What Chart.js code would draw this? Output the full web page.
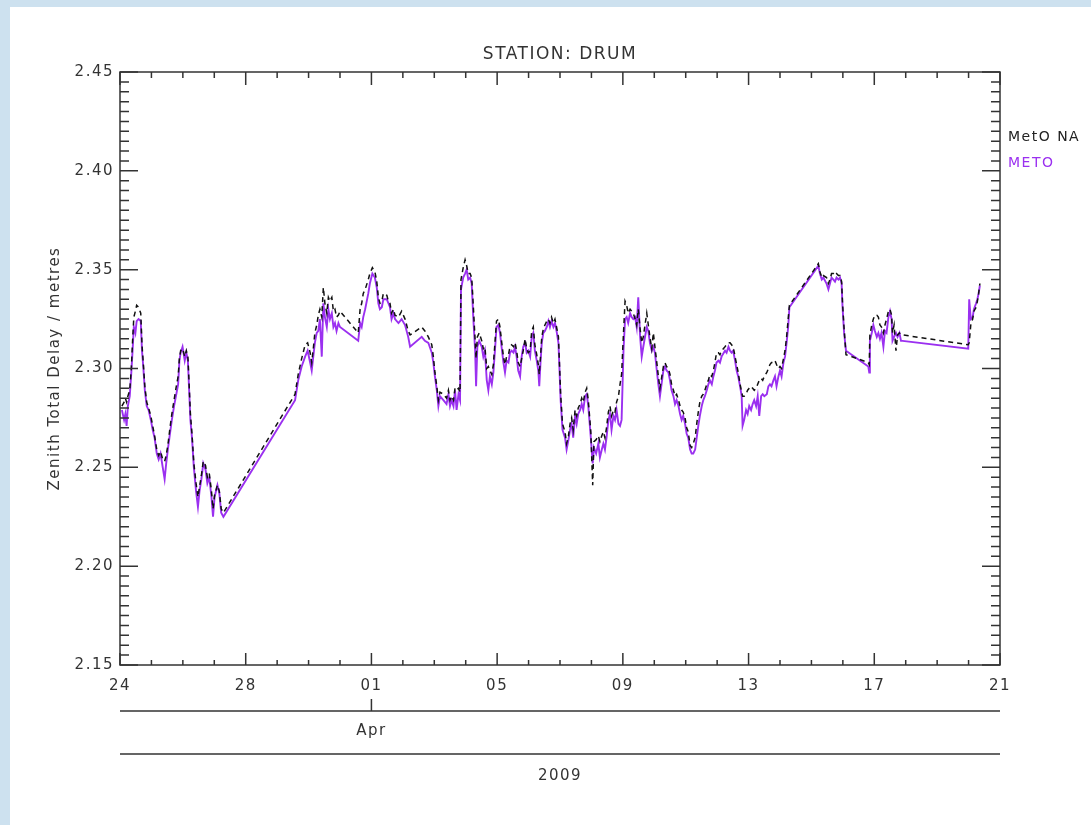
<!DOCTYPE html>
<html>
<head>
<meta charset="utf-8">
<script src="https://cdn.jsdelivr.net/npm/chart.js@4.4.0/dist/chart.umd.min.js"></script>
<style>
  html, body { margin: 0; padding: 0; background: #fff; }
  #wrap { width: 1091px; height: 825px; }
</style>
</head>
<body>
<div id="wrap"><canvas id="ztdChart" width="1091" height="825"></canvas></div>
<script>
// days since 24 Mar 2009 00:00
const days = [
  // 24 - 27 Mar
  0.06, 0.13, 0.17, 0.21, 0.25, 0.31, 0.36, 0.40, 0.44, 0.49, 0.53, 0.59, 0.66, 0.70, 0.74, 0.79, 0.85, 0.91, 0.98, 1.04,
  1.10, 1.17, 1.23, 1.29, 1.36, 1.42, 1.47, 1.53, 1.59, 1.65, 1.72, 1.78, 1.85, 1.89, 1.93, 1.99, 2.06, 2.11, 2.16, 2.20,
  2.24, 2.29, 2.35, 2.42, 2.48, 2.53, 2.59, 2.65, 2.72, 2.78, 2.84, 2.91, 2.96, 3.01, 3.10, 3.16, 3.22, 3.29,
  // 29 Mar - 04 Apr
  5.57, 5.67, 5.78, 5.89, 5.97, 6.05, 6.10, 6.15, 6.20, 6.26, 6.31, 6.36, 6.42, 6.47, 6.52, 6.58, 6.63, 6.68, 6.74, 6.79,
  6.84, 6.89, 6.95, 7.00, 7.58, 7.64, 7.69, 7.74, 7.80, 7.90, 7.95, 8.03, 8.11, 8.17, 8.22, 8.27, 8.33, 8.38, 8.49, 8.54,
  8.59, 8.64, 8.70, 8.75, 8.86, 8.96, 9.07, 9.17, 9.23, 9.60, 9.70, 9.81, 9.92, 9.97, 10.02, 10.08, 10.13, 10.18, 10.29, 10.39,
  10.45, 10.50, 10.55, 10.61, 10.66, 10.71, 10.77, 10.82, 10.85, 10.92, 10.98, 11.03, 11.08, 11.14,
  // 04 - 09 Apr
  11.19, 11.24, 11.30, 11.33, 11.37, 11.43, 11.51, 11.56, 11.61, 11.67, 11.72, 11.77, 11.83, 11.88, 11.93, 11.98, 12.04, 12.09, 12.14, 12.20,
  12.25, 12.30, 12.36, 12.41, 12.46, 12.52, 12.57, 12.62, 12.67, 12.73, 12.78, 12.83, 12.89, 12.94, 12.99, 13.05, 13.10, 13.15, 13.20, 13.26,
  13.31, 13.34, 13.38, 13.42, 13.47, 13.52, 13.58, 13.63, 13.68, 13.73, 13.79, 13.84, 13.89, 13.95, 13.98, 14.02, 14.08, 14.16, 14.21, 14.27,
  14.32, 14.37, 14.42, 14.48, 14.53, 14.58, 14.64, 14.69, 14.74, 14.80, 14.85, 14.90, 14.98, 15.04, 15.08, 15.15, 15.22, 15.27, 15.33, 15.38,
  15.43, 15.48, 15.54, 15.59, 15.64, 15.70, 15.75, 15.80, 15.86, 15.91, 15.96, 16.02, 16.07, 16.12, 16.17, 16.23, 16.28, 16.33, 16.39, 16.44,
  16.49, 16.55, 16.60, 16.65,
  // 09 - 15 Apr
  16.76, 16.81, 16.86, 16.92, 16.97, 17.02, 17.08, 17.13, 17.18, 17.23, 17.29, 17.34, 17.39, 17.45, 17.50, 17.55, 17.61, 17.66, 17.71, 17.77,
  17.82, 17.87, 17.92, 17.98, 18.03, 18.08, 18.14, 18.19, 18.24, 18.30, 18.35, 18.40, 18.45, 18.51, 18.56, 18.61, 18.67, 18.72, 18.77, 18.83,
  18.88, 18.93, 18.98, 19.04, 19.09, 19.14, 19.25, 19.30, 19.36, 19.41, 19.46, 19.51, 19.57, 19.62, 19.67, 19.73, 19.78, 19.81, 19.86, 19.92,
  19.97, 20.02, 20.08, 20.13, 20.18, 20.24, 20.29, 20.34, 20.40, 20.45, 20.50, 20.58, 20.63, 20.68, 20.73, 20.79, 20.84, 20.89, 20.95, 21.00,
  21.05, 21.11, 21.16, 21.21, 21.26, 21.30, 22.22, 22.27, 22.33, 22.38,
  // 15 - 20 Apr
  22.48, 22.54, 22.59, 22.64, 22.70, 22.75, 22.80, 22.86, 22.91, 22.96, 22.99, 23.04, 23.10, 23.81, 23.84, 23.86, 23.92, 23.97, 24.02, 24.08,
  24.13, 24.18, 24.23, 24.29, 24.34, 24.39, 24.45, 24.50, 24.55, 24.58, 24.63, 24.69, 24.74, 24.80, 24.85, 24.90, 26.99, 27.02, 27.07, 27.13,
  27.17, 27.24, 27.28, 27.32, 27.36
];

// MetO NA (black dashed)
const metoNA = [
  2.281, 2.283, 2.285, 2.283, 2.286, 2.289, 2.300, 2.314, 2.326, 2.329, 2.332, 2.331, 2.328, 2.312, 2.303, 2.291, 2.283, 2.280, 2.276, 2.271,
  2.266, 2.259, 2.256, 2.258, 2.254, 2.253, 2.256, 2.262, 2.270, 2.277, 2.284, 2.290, 2.296, 2.305, 2.309, 2.310, 2.306, 2.309, 2.306, 2.292,
  2.277, 2.267, 2.252, 2.242, 2.235, 2.240, 2.246, 2.253, 2.251, 2.245, 2.247, 2.238, 2.229, 2.236, 2.241, 2.238, 2.229, 2.227,

  2.287, 2.297, 2.305, 2.312, 2.313, 2.308, 2.303, 2.310, 2.318, 2.322, 2.327, 2.330, 2.326, 2.341, 2.333, 2.328, 2.336, 2.334, 2.336, 2.329,
  2.330, 2.326, 2.327, 2.329, 2.318, 2.330, 2.333, 2.338, 2.340, 2.345, 2.348, 2.351, 2.349, 2.344, 2.336, 2.333, 2.334, 2.338, 2.337, 2.334,
  2.333, 2.328, 2.330, 2.327, 2.326, 2.329, 2.325, 2.319, 2.317, 2.321, 2.319, 2.316, 2.312, 2.306, 2.298, 2.291, 2.284, 2.288, 2.287, 2.285,
  2.289, 2.284, 2.286, 2.284, 2.290, 2.289, 2.290, 2.288, 2.345, 2.351, 2.355, 2.352, 2.348, 2.348,

  2.346, 2.332, 2.314, 2.305, 2.316, 2.318, 2.314, 2.310, 2.311, 2.300, 2.301, 2.299, 2.297, 2.302, 2.313, 2.324, 2.325, 2.321, 2.314, 2.306,
  2.302, 2.306, 2.307, 2.311, 2.312, 2.311, 2.313, 2.309, 2.303, 2.301, 2.305, 2.309, 2.315, 2.310, 2.308, 2.309, 2.319, 2.321, 2.312, 2.307,
  2.302, 2.297, 2.306, 2.316, 2.320, 2.322, 2.324, 2.325, 2.323, 2.326, 2.323, 2.325, 2.321, 2.316, 2.304, 2.287, 2.272, 2.268, 2.262, 2.266,
  2.272, 2.275, 2.269, 2.279, 2.276, 2.280, 2.282, 2.285, 2.283, 2.288, 2.290, 2.284, 2.268, 2.241, 2.263, 2.264, 2.266, 2.263, 2.266, 2.268,
  2.265, 2.270, 2.278, 2.281, 2.276, 2.279, 2.278, 2.283, 2.286, 2.292, 2.297, 2.318, 2.334, 2.332, 2.328, 2.330, 2.329, 2.328, 2.325, 2.322,
  2.330, 2.320, 2.313, 2.316,

  2.328, 2.322, 2.316, 2.310, 2.318, 2.311, 2.303, 2.296, 2.290, 2.295, 2.301, 2.303, 2.301, 2.300, 2.297, 2.292, 2.289, 2.286, 2.287, 2.284,
  2.281, 2.279, 2.278, 2.275, 2.270, 2.268, 2.261, 2.260, 2.262, 2.265, 2.272, 2.278, 2.283, 2.286, 2.287, 2.289, 2.292, 2.294, 2.297, 2.296,
  2.299, 2.303, 2.308, 2.308, 2.307, 2.309, 2.311, 2.312, 2.313, 2.313, 2.312, 2.311, 2.306, 2.302, 2.298, 2.292, 2.288, 2.286, 2.286, 2.287,
  2.289, 2.290, 2.291, 2.290, 2.289, 2.290, 2.292, 2.294, 2.295, 2.294, 2.296, 2.298, 2.300, 2.302, 2.303, 2.303, 2.304, 2.302, 2.300, 2.301,
  2.300, 2.305, 2.309, 2.316, 2.325, 2.332, 2.353, 2.349, 2.346, 2.347,

  2.346, 2.343, 2.345, 2.348, 2.348, 2.347, 2.348, 2.347, 2.347, 2.344, 2.333, 2.320, 2.307, 2.303, 2.302, 2.317, 2.322, 2.325, 2.327, 2.327,
  2.326, 2.322, 2.321, 2.318, 2.322, 2.325, 2.329, 2.330, 2.327, 2.318, 2.322, 2.309, 2.317, 2.318, 2.317, 2.317, 2.312, 2.313, 2.322, 2.325,
  2.329, 2.331, 2.334, 2.338, 2.343
];

// METO (purple)
const meto = [
  2.279, 2.274, 2.277, 2.271, 2.281, 2.286, 2.298, 2.309, 2.321, 2.318, 2.324, 2.325, 2.324, 2.309, 2.301, 2.289, 2.281, 2.279, 2.274, 2.269,
  2.265, 2.257, 2.254, 2.257, 2.250, 2.244, 2.252, 2.260, 2.267, 2.274, 2.281, 2.286, 2.292, 2.304, 2.308, 2.311, 2.304, 2.308, 2.304, 2.289,
  2.274, 2.265, 2.250, 2.238, 2.230, 2.238, 2.244, 2.252, 2.249, 2.242, 2.245, 2.235, 2.225, 2.235, 2.241, 2.237, 2.227, 2.225,

  2.284, 2.294, 2.301, 2.306, 2.309, 2.303, 2.299, 2.306, 2.313, 2.318, 2.319, 2.325, 2.306, 2.333, 2.326, 2.321, 2.330, 2.325, 2.328, 2.321,
  2.323, 2.319, 2.323, 2.321, 2.314, 2.323, 2.321, 2.326, 2.330, 2.338, 2.343, 2.348, 2.346, 2.341, 2.333, 2.330, 2.331, 2.335, 2.335, 2.333,
  2.331, 2.325, 2.328, 2.325, 2.323, 2.325, 2.322, 2.316, 2.311, 2.316, 2.314, 2.313, 2.308, 2.303, 2.296, 2.289, 2.281, 2.286, 2.284, 2.282,
  2.287, 2.281, 2.284, 2.281, 2.289, 2.279, 2.287, 2.284, 2.340, 2.346, 2.348, 2.350, 2.345, 2.346,

  2.343, 2.326, 2.309, 2.291, 2.311, 2.314, 2.311, 2.306, 2.309, 2.294, 2.289, 2.296, 2.292, 2.298, 2.309, 2.321, 2.322, 2.318, 2.311, 2.303,
  2.298, 2.304, 2.303, 2.308, 2.309, 2.308, 2.311, 2.306, 2.299, 2.296, 2.306, 2.311, 2.313, 2.308, 2.309, 2.306, 2.316, 2.318, 2.309, 2.304,
  2.299, 2.291, 2.303, 2.313, 2.318, 2.319, 2.321, 2.324, 2.321, 2.324, 2.321, 2.323, 2.319, 2.313, 2.301, 2.284, 2.269, 2.265, 2.259, 2.264,
  2.269, 2.272, 2.265, 2.276, 2.272, 2.277, 2.279, 2.282, 2.279, 2.286, 2.287, 2.281, 2.265, 2.252, 2.260, 2.257, 2.262, 2.255, 2.259, 2.262,
  2.259, 2.265, 2.274, 2.277, 2.269, 2.276, 2.274, 2.279, 2.272, 2.271, 2.274, 2.309, 2.325, 2.326, 2.323, 2.328, 2.326, 2.325, 2.326, 2.321,
  2.336, 2.316, 2.306, 2.311,

  2.321, 2.319, 2.313, 2.309, 2.311, 2.308, 2.299, 2.292, 2.286, 2.292, 2.299, 2.301, 2.299, 2.298, 2.294, 2.289, 2.286, 2.282, 2.284, 2.281,
  2.277, 2.274, 2.276, 2.272, 2.267, 2.265, 2.259, 2.257, 2.257, 2.259, 2.265, 2.271, 2.276, 2.281, 2.284, 2.286, 2.289, 2.292, 2.294, 2.292,
  2.296, 2.299, 2.303, 2.304, 2.303, 2.306, 2.309, 2.308, 2.311, 2.309, 2.308, 2.309, 2.304, 2.299, 2.296, 2.291, 2.286, 2.271, 2.274, 2.279,
  2.277, 2.281, 2.279, 2.282, 2.284, 2.281, 2.286, 2.276, 2.286, 2.287, 2.286, 2.287, 2.291, 2.292, 2.291, 2.294, 2.296, 2.291, 2.296, 2.299,
  2.296, 2.303, 2.306, 2.313, 2.321, 2.331, 2.352, 2.348, 2.345, 2.346,

  2.343, 2.340, 2.343, 2.346, 2.345, 2.344, 2.346, 2.345, 2.346, 2.343, 2.331, 2.318, 2.309, 2.301, 2.298, 2.314, 2.318, 2.322, 2.319, 2.316,
  2.318, 2.315, 2.318, 2.311, 2.319, 2.318, 2.326, 2.329, 2.325, 2.314, 2.316, 2.318, 2.316, 2.318, 2.314, 2.314, 2.310, 2.335, 2.325, 2.326,
  2.330, 2.333, 2.335, 2.338, 2.342
];

const xTickDays = [0, 4, 8, 12, 16, 20, 24, 28];
const xTickLabels = ['24', '28', '01', '05', '09', '13', '17', '21'];
const monthLabel = 'Apr';
const monthStartDay = 8;     // 01 Apr
const yearLabel = '2009';
const yMin = 2.15, yMax = 2.45, yStep = 0.05;

const textCol = '#333';
const fontFam = '"DejaVu Sans", sans-serif';

// IDL style box, inward ticks, extra date rows, title and labels
const idlFrame = {
  id: 'idlFrame',
  beforeDraw(chart) {
    const c = chart.ctx;
    c.save();
    c.fillStyle = '#cde1ef';
    c.fillRect(0, 0, chart.width, chart.height);
    c.fillStyle = '#fff';
    c.fillRect(10, 7, chart.width - 10, chart.height - 7);
    c.restore();
    c.letterSpacing = '1.5px';
  },
  afterDraw(chart) {
    const c = chart.ctx;
    const a = chart.chartArea;
    const x = chart.scales.x, y = chart.scales.y;
    c.save();
    c.strokeStyle = '#333';
    c.lineWidth = 1.5;
    c.strokeRect(a.left, a.top, a.right - a.left, a.bottom - a.top);

    c.beginPath();
    for (let k = 0; k <= 60; k++) {
      const py = y.getPixelForValue(yMin + k * 0.005);
      const len = k % 10 === 0 ? 18 : 9;
      c.moveTo(a.left, py); c.lineTo(a.left + len, py);
      c.moveTo(a.right, py); c.lineTo(a.right - len, py);
    }
    for (let d = 0; d <= 28; d++) {
      const px = x.getPixelForValue(d);
      const major = d % 4 === 0;
      c.moveTo(px, a.bottom); c.lineTo(px, a.bottom - (major ? 12 : 5));
      c.moveTo(px, a.top); c.lineTo(px, a.top + (major ? 13 : 6));
    }
    // month / year rows
    const pApr = x.getPixelForValue(monthStartDay);
    c.moveTo(a.left, a.bottom + 46); c.lineTo(a.right, a.bottom + 46);
    c.moveTo(pApr, a.bottom + 46); c.lineTo(pApr, a.bottom + 34);
    c.moveTo(a.left, a.bottom + 89); c.lineTo(a.right, a.bottom + 89);
    c.stroke();

    c.fillStyle = textCol;
    c.textAlign = 'center';
    c.textBaseline = 'middle';
    c.font = '15px ' + fontFam;
    c.fillText(monthLabel, pApr, a.bottom + 66);
    c.fillText(yearLabel, x.getPixelForValue(14), a.bottom + 111);

    c.font = '17px ' + fontFam;
    c.fillText('STATION: DRUM', (a.left + a.right) / 2, 55);

    c.save();
    c.translate(55, (a.top + a.bottom) / 2);
    c.rotate(-Math.PI / 2);
    c.font = '15px ' + fontFam;
    c.fillText('Zenith Total Delay / metres', 0, 0);
    c.restore();

    c.textAlign = 'left';
    c.font = '14px ' + fontFam;
    chart.data.datasets.forEach((ds, i) => {
      c.fillStyle = ds.textColor;
      c.fillText(ds.label, a.right + 8, a.top + 65 + i * 26);
    });
    c.restore();
  }
};

const ctx = document.getElementById('ztdChart').getContext('2d');
const ztdChart = new Chart(ctx, {
  type: 'line',
  data: {
    datasets: [{
      label: 'MetO NA',
      data: days.map((d, i) => ({ x: d, y: metoNA[i] })),
      borderColor: '#111',
      textColor: '#222',
      borderWidth: 1.5,
      borderDash: [5, 4],
      pointRadius: 0,
      tension: 0
    }, {
      label: 'METO',
      data: days.map((d, i) => ({ x: d, y: meto[i] })),
      borderColor: '#9b30f0',
      textColor: '#9b30f0',
      borderWidth: 1.9,
      pointRadius: 0,
      tension: 0
    }]
  },
  options: {
    responsive: false,
    animation: false,
    layout: { padding: { left: 0, right: 91, top: 72, bottom: 0 } },
    plugins: {
      legend: { display: false },
      title: { display: false },
      tooltip: { enabled: false }
    },
    scales: {
      x: {
        type: 'linear',
        min: 0,
        max: 28,
        afterBuildTicks: s => { s.ticks = xTickDays.map(v => ({ value: v })); },
        afterFit: s => { s.height = 160; },
        grid: { display: false, drawTicks: false },
        border: { display: false },
        ticks: {
          callback: (v, i) => xTickLabels[i],
          color: textCol,
          font: { family: fontFam, size: 15 },
          padding: 12,
          maxRotation: 0,
          autoSkip: false
        }
      },
      y: {
        min: yMin,
        max: yMax,
        afterBuildTicks: s => {
          const t = [];
          for (let v = yMin; v <= yMax + 1e-9; v += yStep) t.push({ value: +v.toFixed(2) });
          s.ticks = t;
        },
        afterFit: s => { s.width = 120; },
        grid: { display: false, drawTicks: false },
        border: { display: false },
        ticks: {
          callback: v => v.toFixed(2),
          color: textCol,
          font: { family: fontFam, size: 15 },
          padding: 6
        }
      }
    }
  },
  plugins: [idlFrame]
});
</script>
</body>
</html>
